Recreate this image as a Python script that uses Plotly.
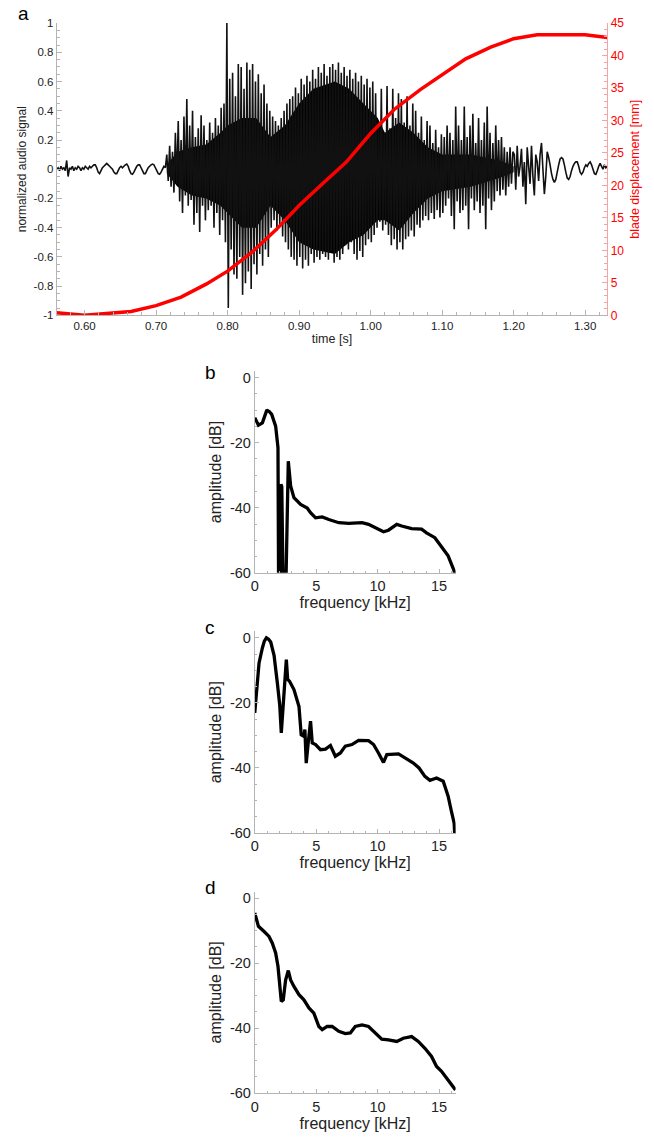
import numpy as np
import plotly.graph_objects as go

W, H = 654, 1137

# ---------------- panel a : audio signal (sampled every 2 ms) ----------------
audio_t0 = 0.561
audio_dt = 0.002
audio_pre = [
    0.00, 0.01, -0.01, 0.02, 0.00, 0.01, -0.01, 0.06, -0.05, 0.01,
    0.00, 0.02, -0.01, 0.01, 0.00, 0.02, 0.01, -0.01, 0.01, 0.00,
    0.02, 0.01, 0.00, 0.02, 0.01, 0.02, 0.03, 0.03, 0.01, -0.02,
    -0.03, -0.01, 0.01, 0.02, 0.03, 0.04, 0.03, 0.02, 0.01, 0.00,
    -0.02, -0.03, -0.03, -0.01, 0.01, 0.02, 0.01, 0.02, 0.03, 0.035,
    0.02, -0.01, -0.03, -0.035, -0.02, 0.00, 0.02, 0.03, 0.03, 0.01,
    -0.01, -0.03, -0.03, -0.01, 0.01, 0.02, 0.03, 0.035, 0.03, 0.01,
    -0.01, -0.03, -0.035, -0.02, 0.00, 0.02, 0.01,
]
audio_onset = [
    0.10, -0.08, 0.16, -0.12, 0.12, -0.16, 0.25, -0.10, 0.33, -0.22,
    0.20, -0.30, 0.36, -0.18, 0.48, -0.25, 0.30, -0.21, 0.40, -0.38,
    0.22, -0.30, 0.28, -0.43, 0.37, -0.25, 0.30, -0.35, 0.20, -0.28,
    0.32, -0.25, 0.25, -0.40, 0.35, -0.30, 0.30, -0.45, 0.42, -0.35, 0.45, -0.50,
]
audio_lobe1 = [
    1.00, -0.95, 0.62, -0.55, 0.66, -0.72, 0.50, -0.75, 0.72, -0.60,
    0.70, -0.86, 0.55, -0.78, 0.73, -0.70, 0.68, -0.82, 0.72, -0.65,
    0.60, -0.72, 0.65, -0.58, 0.52, -0.66, 0.58, -0.55, 0.45, -0.60, 0.40,
]
audio_dip = [
    -0.40, 0.36, -0.35, 0.33, -0.42, 0.30, -0.38, 0.35, -0.46, 0.40,
    -0.50, 0.45, -0.55, 0.48,
]
audio_lobe2 = [
    -0.60, 0.50, -0.62, 0.56, -0.66, 0.52, -0.60, 0.62, -0.68, 0.58,
    -0.62, 0.64, -0.66, 0.60, -0.58, 0.68, -0.64, 0.62, -0.60, 0.70,
    -0.62, 0.66, -0.58, 0.72, -0.60, 0.64, -0.62, 0.70, -0.56, 0.72,
    -0.64, 0.68, -0.60, 0.73, -0.62, 0.66, -0.58, 0.70, -0.52, 0.64,
    -0.55, 0.68, -0.50, 0.62, -0.58, 0.66, -0.62, 0.60, -0.56, 0.64,
    -0.60, 0.58, -0.52, 0.62, -0.48, 0.56,
]
audio_lobe3 = [
    -0.50, 0.60, -0.45, 0.52, -0.40, 0.30, -0.36, 0.55, -0.42, 0.25,
    -0.38, 0.57, -0.45, 0.28, -0.52, 0.55, -0.48, 0.35, -0.55, 0.52,
    -0.50, 0.48, -0.55, 0.32, -0.48, 0.50, -0.46, 0.30, -0.42, 0.45,
    -0.46, 0.40, -0.38, 0.25, -0.40, 0.36, -0.35, 0.20, -0.32, 0.33,
    -0.35, 0.30, -0.30, 0.18, -0.34, 0.27, -0.28, 0.15, -0.33, 0.24,
]
audio_decay = [
    -0.30, 0.22, -0.25, 0.30, -0.20, 0.25, -0.32, 0.20, -0.41, 0.43,
    -0.22, 0.30, -0.30, 0.20, -0.28, 0.43, -0.25, 0.22, -0.41, 0.30,
    -0.20, 0.38, -0.28, 0.18, -0.22, 0.35, -0.30, 0.20, -0.25, 0.32,
    -0.41, 0.43, -0.20, 0.25, -0.28, 0.18, -0.22, 0.30, -0.15, 0.20,
    -0.18, 0.22, -0.14, 0.15, -0.18, 0.12, -0.12, 0.15, -0.10, 0.12,
]
audio_late = [
    0.10, -0.14, 0.16, -0.05, 0.02, 0.14, -0.12, 0.05, -0.24, 0.15,
    0.02, -0.10, 0.16, -0.05, -0.18, 0.10, 0.05, -0.08, 0.10, 0.18,
    0.00, -0.17, -0.05, 0.12, 0.08,
]
audio_tail = [
    0.03, -0.03, -0.07, -0.09, -0.07, -0.02, 0.03, 0.07, 0.08, 0.07,
    0.03, -0.02, -0.06, -0.07, -0.05, -0.01, 0.02, 0.04, 0.05, 0.05,
    0.02, -0.02, -0.035, -0.02, 0.01, 0.03, 0.02, 0.04, 0.05, 0.03,
    0.00, -0.03, -0.035, -0.01, 0.02, 0.04, 0.02, 0.00, 0.03, 0.01, 0.02,
]
audio_v = (audio_pre + audio_onset + audio_lobe1 + audio_dip + audio_lobe2
           + audio_lobe3 + audio_decay + audio_late + audio_tail)
audio_t = audio_t0 + audio_dt * np.arange(len(audio_v))

# solid (saturated) core of the dense oscillation, read as an envelope
core_t = [0.715, 0.730, 0.750, 0.770, 0.790, 0.800, 0.820, 0.840, 0.860, 0.880,
          0.900, 0.920, 0.950, 0.970, 0.990, 1.010, 1.020, 1.040, 1.060, 1.080,
          1.100, 1.140, 1.180, 1.200]
core_hi = [0.03, 0.12, 0.15, 0.17, 0.25, 0.30, 0.35, 0.35, 0.22, 0.30,
           0.45, 0.55, 0.60, 0.55, 0.45, 0.35, 0.25, 0.32, 0.25, 0.15,
           0.10, 0.10, 0.06, 0.02]
core_lo = [-0.03, -0.12, -0.18, -0.20, -0.25, -0.30, -0.40, -0.40, -0.25, -0.35,
           -0.50, -0.55, -0.58, -0.50, -0.45, -0.35, -0.35, -0.42, -0.30, -0.20,
           -0.15, -0.12, -0.06, -0.02]

# blade displacement (mm)
blade_t = [0.561, 0.600, 0.665, 0.700, 0.735, 0.770, 0.800, 0.835, 0.868, 0.900,
           0.935, 0.966, 1.000, 1.033, 1.070, 1.100, 1.133, 1.168, 1.200, 1.233,
           1.300, 1.331]
blade_mm = [0.4, 0.0, 0.6, 1.5, 2.8, 4.8, 6.8, 9.8, 13.2, 16.9,
            20.5, 23.6, 28.0, 31.7, 34.8, 37.1, 39.5, 41.3, 42.6, 43.2,
            43.2, 42.8]

time_ticks = [0.6, 0.7, 0.8, 0.9, 1.0, 1.1, 1.2, 1.3]
sig_ticks = [-1, -0.8, -0.6, -0.4, -0.2, 0, 0.2, 0.4, 0.6, 0.8, 1]
mm_ticks = [0, 5, 10, 15, 20, 25, 30, 35, 40, 45]

# ---------------- spectra ----------------
spec_b_f = [0, 0.30, 0.62, 0.89, 0.96, 1.03, 1.18, 1.38, 1.70, 1.89, 1.96, 2.13,
            2.20, 2.36, 2.45, 2.73, 2.92, 3.19, 3.73, 4.27, 4.54, 4.95, 5.49,
            6.03, 6.84, 7.65, 8.73, 9.26, 9.80, 10.48, 10.88, 11.56, 11.96,
            12.77, 13.58, 13.98, 14.66, 15.20, 15.74, 16.23, 16.32]
spec_b_db = [-12.3, -14.6, -13.9, -10.8, -10.2, -10.1, -10.4, -11.3, -14.9, -21.5,
             -80, -32.8, -33.5, -80, -80, -25.7, -33.3, -36.9, -39.0, -40.1,
             -41.5, -43.1, -42.8, -43.6, -44.6, -44.8, -44.6, -45.1, -46.1,
             -47.4, -46.9, -45.1, -45.6, -46.4, -46.6, -47.7, -49.2, -51.8,
             -54.8, -59.4, -62]

spec_c_f = [0, 0.13, 0.35, 0.62, 0.78, 0.95, 1.12, 1.30, 1.57, 1.84, 2.03, 2.16,
            2.24, 2.38, 2.57, 2.68, 2.84, 3.19, 3.46, 3.60, 3.78, 4.00, 4.08,
            4.19, 4.35, 4.54, 4.68, 4.95, 5.35, 5.76, 6.16, 6.56, 6.97, 7.37,
            7.91, 8.45, 9.26, 9.67, 10.07, 10.48, 10.75, 11.16, 11.70, 12.23,
            12.91, 13.37, 13.85, 14.26, 14.80, 15.34, 15.74, 16.01, 16.23, 16.30]
spec_c_db = [-23.1, -16.9, -7.7, -3.1, -1.0, 0.0, -0.4, -1.3, -5.4, -13.9, -20.5,
             -29.2, -25.0, -14.9, -6.7, -12.8, -13.4, -15.9, -20.0, -21.1, -29.8,
             -30.3, -28.2, -38.5, -32.3, -25.6, -32.3, -32.8, -34.4, -34.2,
             -33.1, -36.4, -35.4, -33.3, -32.8, -31.5, -31.6, -32.8, -35.4,
             -38.3, -35.9, -35.9, -35.7, -36.9, -38.5, -40.0, -42.6, -43.8,
             -43.1, -44.1, -48.7, -53.4, -57.0, -62]

spec_d_f = [0, 0.30, 0.76, 1.16, 1.43, 1.70, 1.89, 2.03, 2.16, 2.32, 2.51, 2.73,
            2.92, 3.19, 3.60, 4.00, 4.41, 4.81, 5.22, 5.49, 5.89, 6.30, 6.84,
            7.37, 7.78, 8.18, 8.73, 9.26, 9.80, 10.34, 10.88, 11.56, 12.09,
            12.77, 13.31, 13.85, 14.39, 14.80, 15.20, 15.74, 16.07, 16.34]
spec_d_db = [-4.6, -8.7, -10.3, -11.8, -13.9, -16.9, -21.0, -28.2, -31.8, -31.3,
             -25.2, -22.3, -25.2, -27.2, -29.7, -31.3, -33.8, -35.4, -39.5,
             -40.5, -39.5, -39.5, -41.0, -41.7, -41.5, -39.5, -39.0, -39.5,
             -41.5, -43.4, -43.6, -44.1, -43.1, -42.6, -44.1, -46.2, -48.7,
             -51.8, -53.3, -55.9, -57.9, -59.0]

freq_ticks = [0, 5, 10, 15]
db_ticks = [-60, -40, -20, 0]


def fmt(v):
    return f"{v:g}"


FONT = "Liberation Sans, Arial, sans-serif"
GREY = "#b4b4b4"
TXT = "#222222"
RED = "#ff0000"
PINK = "#f5a3a3"

fig = go.Figure()
fig.add_trace(go.Scatter(x=list(core_t) + list(core_t)[::-1],
                         y=list(core_hi) + list(core_lo)[::-1],
                         mode="lines", fill="toself", fillcolor="black",
                         line=dict(color="black", width=0),
                         xaxis="x", yaxis="y", showlegend=False, hoverinfo="skip"))
fig.add_trace(go.Scatter(x=audio_t, y=audio_v, mode="lines",
                         line=dict(color="#111111", width=1.6, simplify=False),
                         xaxis="x", yaxis="y", showlegend=False))
fig.add_trace(go.Scatter(x=blade_t, y=blade_mm, mode="lines",
                         line=dict(color=RED, width=3.5),
                         xaxis="x", yaxis="y2", showlegend=False))

for i, (f, d) in enumerate([(spec_b_f, spec_b_db), (spec_c_f, spec_c_db),
                            (spec_d_f, spec_d_db)]):
    fig.add_trace(go.Scatter(x=f, y=d, mode="lines",
                             line=dict(color="black", width=3.3),
                             xaxis=f"x{i + 2}", yaxis=f"y{i + 3}",
                             showlegend=False))

# the photographed page comes out 16 px taller than the figure and is squeezed
# back to 1137 px (8 px offset); place everything so that it lands where intended
PAGE_SCALE = (H + 16) / H


def px_x(p):
    return p / W


def px_y(p):
    fig_y = p * PAGE_SCALE - 8
    return 1 - fig_y / H


layout = dict(
    width=W, height=H, margin=dict(l=0, r=0, t=0, b=0),
    paper_bgcolor="white", plot_bgcolor="white",
    font=dict(family=FONT, color=TXT),
)

layout["xaxis"] = dict(
    domain=[px_x(53), px_x(607)], range=[0.561, 1.331], anchor="y",
    tickmode="array", tickvals=time_ticks, ticktext=[f"{v:.2f}" for v in time_ticks],
    ticks="inside", ticklen=5, tickcolor=GREY, showline=True, linecolor=GREY,
    minor=dict(tick0=0.6, dtick=0.02, ticks="inside", ticklen=3, tickcolor=GREY),
    showgrid=False, zeroline=False, tickfont=dict(size=11.5, color=TXT),
    title=dict(text="time [s]", font=dict(size=12.5, color=TXT), standoff=3),
)
layout["yaxis"] = dict(
    domain=[px_y(316), px_y(24)], range=[-1, 1], anchor="x",
    tickmode="array", tickvals=sig_ticks, ticktext=[fmt(v) for v in sig_ticks],
    ticks="inside", ticklen=5, tickcolor=GREY, showline=True, linecolor=GREY,
    minor=dict(tick0=0, dtick=0.05, ticks="inside", ticklen=3, tickcolor=GREY),
    showgrid=False, zeroline=False, tickfont=dict(size=11.5, color=TXT),
    title=dict(text="normalized audio signal", font=dict(size=12, color=TXT), standoff=4),
)
layout["yaxis2"] = dict(
    overlaying="y", side="right", anchor="x", range=[0, 45],
    tickmode="array", tickvals=mm_ticks, ticktext=[str(v) for v in mm_ticks],
    ticks="inside", ticklen=5, tickcolor=PINK, showline=True, linecolor=PINK,
    minor=dict(tick0=0, dtick=1, ticks="inside", ticklen=3, tickcolor=PINK),
    showgrid=False, zeroline=False, tickfont=dict(size=12, color=RED),
    title=dict(text="blade displacement [mm]", font=dict(size=12.5, color=RED), standoff=6),
)

spec_tops = [371.8, 631.8, 891.8]
for i, top in enumerate(spec_tops):
    bottom = top + 201.5
    xa = f"xaxis{i + 2}"
    ya = f"yaxis{i + 3}"
    layout[xa] = dict(
        domain=[px_x(252.3), px_x(454.4)], range=[0, 16.35], anchor=f"y{i + 3}",
        tickmode="array", tickvals=freq_ticks, ticktext=[str(v) for v in freq_ticks],
        ticks="inside", ticklen=4, tickcolor=GREY, showline=True, linecolor=GREY,
        minor=dict(tick0=0, dtick=1, ticks="inside", ticklen=2, tickcolor=GREY),
        showgrid=False, zeroline=False, tickfont=dict(size=14.5, color=TXT),
        title=dict(text="frequency [kHz]", font=dict(size=16, color=TXT), standoff=3),
    )
    layout[ya] = dict(
        domain=[px_y(bottom), px_y(top)], range=[-60, 2], anchor=f"x{i + 2}",
        tickmode="array", tickvals=db_ticks, ticktext=[fmt(v) for v in db_ticks],
        ticks="inside", ticklen=4, tickcolor=GREY, showline=True, linecolor=GREY,
        minor=dict(tick0=0, dtick=5, ticks="inside", ticklen=2, tickcolor=GREY),
        showgrid=False, zeroline=False, tickfont=dict(size=14.5, color=TXT),
        title=dict(text="amplitude [dB]", font=dict(size=16, color=TXT), standoff=4),
    )

fig.update_layout(**layout)

letters = [("a", 12, 14), ("b", 200, 373), ("c", 200, 628), ("d", 200, 888)]
for txt, x, y in letters:
    fig.add_annotation(text=txt, x=px_x(x), y=px_y(y), xref="paper", yref="paper",
                       xanchor="left", yanchor="middle", showarrow=False,
                       font=dict(size=19, color="black", family=FONT))

post = (
    "document.documentElement.style.margin='0';"
    "document.body.style.margin='0';"
)

fig.write_html("out.html", config={"displayModeBar": False}, post_script=post)
